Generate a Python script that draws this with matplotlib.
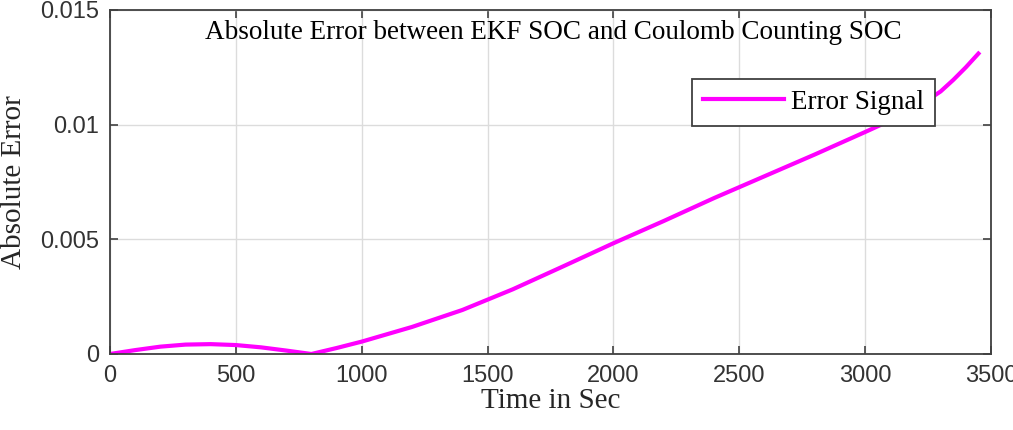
import matplotlib
matplotlib.use("Agg")
import matplotlib.pyplot as plt
from matplotlib.ticker import MultipleLocator
import numpy as np

# error signal (time in s, absolute error)
t = [0, 100, 200, 300, 400, 500, 600, 700, 800, 900, 1000, 1200, 1400,
     1600, 1800, 2000, 2200, 2400, 2600, 2800, 3000, 3100, 3200, 3300,
     3350, 3400, 3450]
err = [0.0, 0.00017, 0.00032, 0.00041, 0.00043, 0.00039, 0.00029, 0.00015,
       0.0, 0.00026, 0.00054, 0.00118, 0.00192, 0.00282, 0.00382, 0.00483,
       0.00580, 0.00680, 0.00775, 0.00870, 0.00968, 0.01018, 0.01072,
       0.01145, 0.01195, 0.01250, 0.01310]

title = "Absolute Error between EKF SOC and Coulomb Counting SOC"
xlabel = "Time in Sec"
ylabel = "Absolute Error"
legend_label = "Error Signal"

W, H = 1013, 430
fig = plt.figure(figsize=(W / 100, H / 100), dpi=100)
ax = fig.add_axes([110 / W, 1 - 354 / H, (991 - 110) / W, (354 - 10) / H])

ax.plot(t, err, color="#ff00ff", lw=3, label=legend_label)

ax.set_xlim(0, 3500)
ax.set_ylim(0, 0.015)
ax.xaxis.set_major_locator(MultipleLocator(500))
ax.set_yticks([0, 0.005, 0.01, 0.015])
ax.set_yticklabels(["0", "0.005", "0.01", "0.015"])

ax.grid(True, color="#dcdcdc", lw=1.0)
ax.set_axisbelow(True)
for s in ax.spines.values():
    s.set_color("#404040")
    s.set_linewidth(1.3)
ax.tick_params(direction="in", length=6, width=1.2, color="#404040",
               top=True, right=True, labelsize=17, labelcolor="#333333", pad=8)
for lab in ax.get_xticklabels() + ax.get_yticklabels():
    lab.set_family("Liberation Sans")

serif = ["Liberation Serif", "DejaVu Serif"]
ax.text(0.503, 0.97, title, transform=ax.transAxes, ha="center", va="top",
        fontsize=19.5, family=serif, color="#000000")
ax.set_xlabel(xlabel, fontsize=21, family=serif, color="#262626", labelpad=1)
ax.set_ylabel(ylabel, fontsize=21, family=serif, color="#262626", labelpad=9)

leg = ax.legend(loc="upper right", bbox_to_anchor=((935 - 110) / 881, 1 - (79 - 10) / 344),
                prop={"family": serif, "size": 19.5}, frameon=True, fancybox=False,
                framealpha=1, edgecolor="#404040", handlelength=3.0,
                handletextpad=0.25, borderpad=0.4, borderaxespad=0)
leg.get_frame().set_linewidth(1.3)

fig.savefig("out.png", dpi=100)
